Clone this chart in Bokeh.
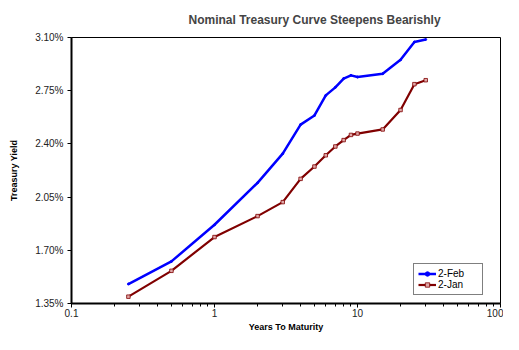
from bokeh.plotting import figure
from bokeh.models import FixedTicker, PrintfTickFormatter, Range1d, Legend, LegendItem
from bokeh.embed import file_html
from bokeh.resources import INLINE

# Data
maturities = [0.25, 0.5, 1, 2, 3, 4, 5, 6, 7, 8, 9, 10, 15, 20, 25, 30]
feb_yield = [1.478, 1.627, 1.868, 2.144, 2.336, 2.527, 2.587, 2.719, 2.772, 2.830, 2.851, 2.840, 2.862, 2.953, 3.070, 3.087]
jan_yield = [1.395, 1.565, 1.787, 1.925, 2.017, 2.170, 2.251, 2.325, 2.383, 2.425, 2.459, 2.468, 2.495, 2.623, 2.793, 2.819]
y_ticks = [1.35, 1.70, 2.05, 2.40, 2.75, 3.10]
x_ticks = [0.1, 1, 10, 100]
x_minor = [0.2, 0.3, 0.4, 0.5, 0.6, 0.7, 0.8, 0.9, 2, 3, 4, 5, 6, 7, 8, 9, 20, 30, 40, 50, 60, 70, 80, 90]
x_labels = {0.1: "0.1", 1: "1", 10: "10", 100: "100"}

FONT = "Liberation Sans"

p = figure(width=503, height=334, x_axis_type="log", output_backend="svg",
           toolbar_location=None, x_range=Range1d(0.1, 100), y_range=Range1d(1.35, 3.10),
           min_border_left=71, min_border_right=3, min_border_top=0, min_border_bottom=0)

p.title.text = "Nominal Treasury Curve Steepens Bearishly"
p.title.align = "left"
p.title.offset = 117
p.title.text_font = FONT
p.title.text_font_size = "12px"
p.title.text_font_style = "bold"
p.title.standoff = 21

p.xgrid.visible = False
p.ygrid.visible = False
p.outline_line_color = "black"
p.outline_line_width = 1

p.xaxis.ticker = FixedTicker(ticks=x_ticks, minor_ticks=x_minor)
p.xaxis.major_label_overrides = x_labels
p.yaxis.ticker = FixedTicker(ticks=y_ticks)
p.yaxis.formatter = PrintfTickFormatter(format="%.2f%%")

for ax in (p.xaxis[0], p.yaxis[0]):
    ax.axis_line_color = "black"
    ax.axis_line_width = 2
    ax.major_tick_line_color = "black"
    ax.minor_tick_line_color = "black"
    ax.major_tick_out = 4
    ax.major_tick_in = 0
    ax.minor_tick_out = 3
    ax.minor_tick_in = 0
    ax.major_label_text_font = FONT
    ax.major_label_text_font_size = "10px"
    ax.major_label_text_color = "#222222"
    ax.axis_label_text_font = FONT
    ax.axis_label_text_font_size = "9px"
    ax.axis_label_text_font_style = "bold"
    ax.axis_label_text_color = "black"

p.yaxis.minor_tick_line_color = None
p.xaxis.axis_label = "Years To Maturity"
p.yaxis.axis_label = "Treasury Yield"
p.xaxis.major_label_standoff = 1
p.xaxis.axis_label_standoff = 2
p.yaxis.major_label_standoff = 4
p.yaxis.axis_label_standoff = 13

feb_line = p.line(maturities, feb_yield, line_color="#0000FF", line_width=2.5)
feb_mark = p.scatter(maturities, feb_yield, marker="circle", size=2, fill_color="#0000FF", line_color="#0000FF")
jan_line = p.line(maturities, jan_yield, line_color="#800000", line_width=2.2)
jan_mark = p.scatter(maturities, jan_yield, marker="square", size=3.5, fill_color="#e0a8a8", line_color="#800000", line_width=0.8)

legend = Legend(items=[LegendItem(label="2-Feb", renderers=[feb_line, feb_mark]),
                       LegendItem(label="2-Jan", renderers=[jan_line, jan_mark])],
                location=(342, 8))
legend.label_text_font = FONT
legend.label_text_font_size = "10px"
legend.label_text_color = "black"
legend.border_line_color = "black"
legend.border_line_width = 1
legend.padding = 4
legend.spacing = 0
legend.margin = 0
legend.glyph_width = 18
legend.glyph_height = 11
legend.label_height = 11
legend.label_width = 40
legend.label_standoff = 2
legend.background_fill_alpha = 1
p.add_layout(legend, "center")

open("out.html", "w").write(file_html(p, INLINE))
